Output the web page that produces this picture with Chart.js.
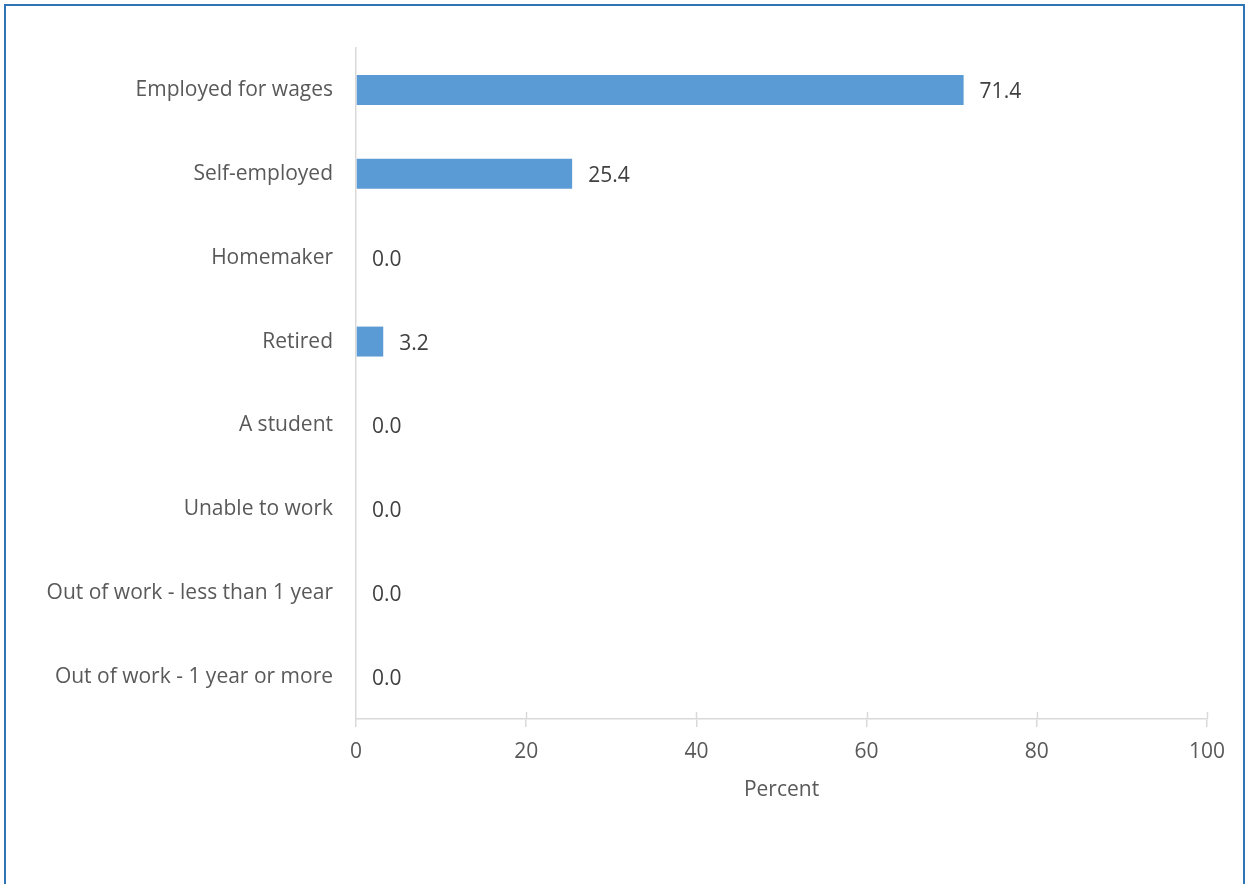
<!DOCTYPE html>
<html>
<head>
<meta charset="utf-8">
<script src="https://cdn.jsdelivr.net/npm/chart.js@4"></script>
<style>
html,body{margin:0;padding:0;background:#fff;overflow:hidden;}
#wrap{position:absolute;left:0;top:0;width:1251px;height:884px;}
#frame{position:absolute;left:4px;top:4px;width:1241px;height:900px;border:2px solid #2e75b6;box-sizing:border-box;pointer-events:none;}
canvas{position:absolute;left:0;top:0;}
</style>
</head>
<body>
<div id="wrap"><canvas id="c" width="1251" height="884"></canvas><div id="frame"></div></div>
<script>
const categories = ["Employed for wages","Self-employed","Homemaker","Retired","A student","Unable to work","Out of work - less than 1 year","Out of work - 1 year or more"];
const percentValues = [71.4, 25.4, 0.0, 3.2, 0.0, 0.0, 0.0, 0.0];
const xTicks = [0, 20, 40, 60, 80, 100];
const axisTitle = "Percent";

const FONT = "'Open Sans', sans-serif";
const FS = 21;

const valueLabels = {
  id: 'valueLabels',
  afterDatasetsDraw(chart) {
    const ctx = chart.ctx;
    const meta = chart.getDatasetMeta(0);
    ctx.save();
    ctx.font = FS + "px " + FONT;
    ctx.fillStyle = "#404040";
    ctx.textAlign = "left";
    ctx.textBaseline = "middle";
    meta.data.forEach((bar, i) => {
      const v = chart.data.datasets[0].data[i];
      ctx.fillText(v.toFixed(1), bar.x + 16, bar.y + 2);
    });
    ctx.restore();
  }
};

const innerTicks = {
  id: 'innerTicks',
  afterDraw(chart) {
    const ctx = chart.ctx;
    const xs = chart.scales.x;
    ctx.save();
    ctx.strokeStyle = "#d9d9d9";
    ctx.lineWidth = 1.5;
    xTicks.forEach(t => {
      if (t === 0) return;
      const px = Math.round(xs.getPixelForValue(t)) + 0.5;
      ctx.beginPath();
      ctx.moveTo(px, xs.top - 7);
      ctx.lineTo(px, xs.top);
      ctx.stroke();
    });
    ctx.restore();
  }
};

new Chart(document.getElementById('c'), {
  type: 'bar',
  data: {
    labels: categories,
    datasets: [{
      data: percentValues,
      backgroundColor: '#5b9bd5',
      borderWidth: 0,
      categoryPercentage: 0.357,
      barPercentage: 1.0
    }]
  },
  options: {
    indexAxis: 'y',
    responsive: false,
    animation: false,
    devicePixelRatio: 1,
    layout: { padding: { top: 48, right: 44, left: 0, bottom: 0 } },
    plugins: { legend: { display: false }, tooltip: { enabled: false } },
    scales: {
      x: {
        min: 0, max: 100,
        afterBuildTicks(scale) { scale.ticks = xTicks.map(v => ({ value: v })); },
        afterFit(scale) { scale.height = 165; },
        grid: { drawOnChartArea: false, drawTicks: true, tickLength: 8, color: '#d9d9d9', lineWidth: 1.5 },
        border: { display: true, color: '#d9d9d9', width: 1.5 },
        ticks: { color: '#595959', font: { family: FONT, size: FS }, padding: 12, maxRotation: 0 },
        title: { display: true, text: axisTitle, color: '#595959', font: { family: FONT, size: FS }, padding: { top: 0, bottom: 81 } }
      },
      y: {
        afterFit(scale) { scale.width = 356; },
        grid: { display: false, drawTicks: false },
        border: { display: true, color: '#d9d9d9', width: 1.5 },
        ticks: { color: '#595959', font: { family: FONT, size: FS }, padding: 23 }
      }
    }
  },
  plugins: [valueLabels, innerTicks]
});
</script>
</body>
</html>
